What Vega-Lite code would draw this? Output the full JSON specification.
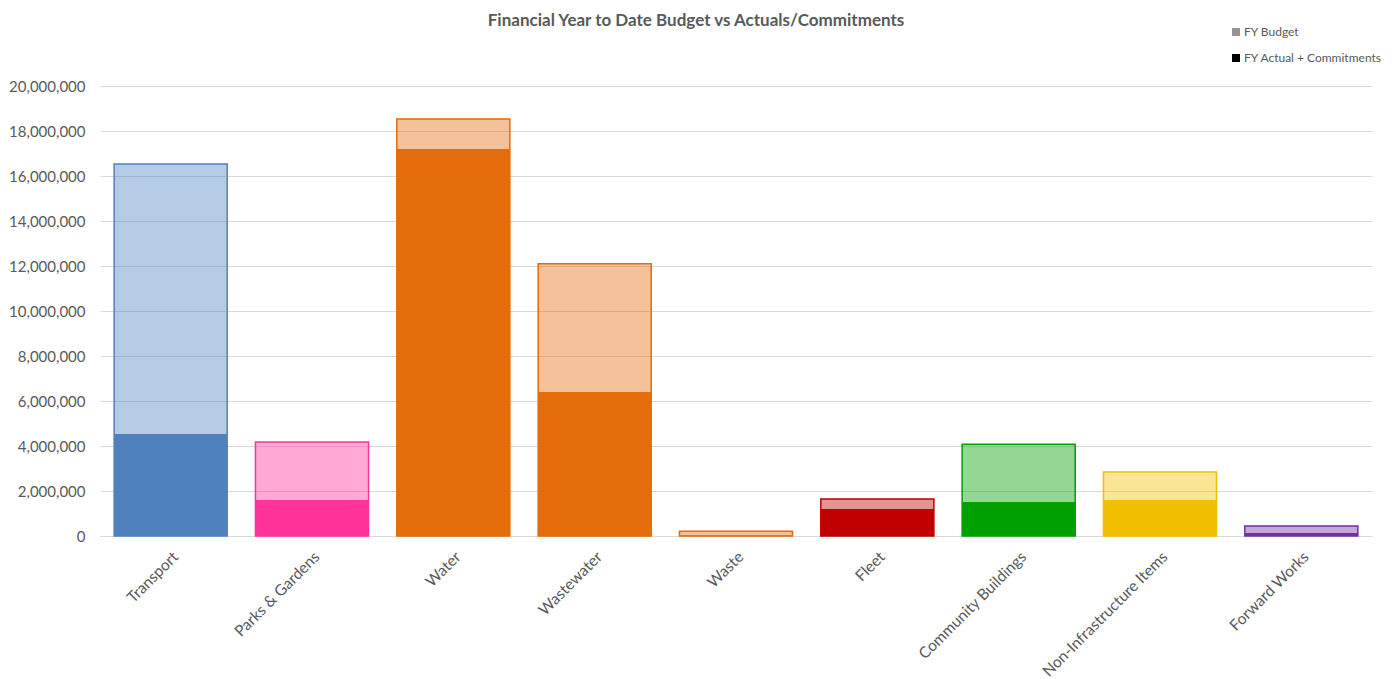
{
  "$schema": "https://vega.github.io/schema/vega-lite/v6.json",
  "width": 1272,
  "height": 450,
  "autosize": {"type": "none"},
  "padding": {"left": 100, "top": 86, "right": 21, "bottom": 143},
  "background": "white",
  "config": {
    "font": "Lato",
    "view": {"stroke": null},
    "axis": {"labelFont": "Lato", "labelColor": "#595959", "labelFontSize": 15},
    "legend": {"padding": 0}
  },
  "title": {
    "text": "Financial Year to Date Budget vs Actuals/Commitments",
    "font": "Lato",
    "fontSize": 17,
    "fontWeight": "bold",
    "color": "#595959",
    "anchor": "middle",
    "frame": "group",
    "dx": -40,
    "offset": -4
  },
  "data": {
    "values": [
      {"category": "Transport", "series": "FY Budget", "value": 16530000},
      {"category": "Parks & Gardens", "series": "FY Budget", "value": 4180000},
      {"category": "Water", "series": "FY Budget", "value": 18530000},
      {"category": "Wastewater", "series": "FY Budget", "value": 12100000},
      {"category": "Waste", "series": "FY Budget", "value": 210000},
      {"category": "Fleet", "series": "FY Budget", "value": 1640000},
      {"category": "Community Buildings", "series": "FY Budget", "value": 4080000},
      {"category": "Non-Infrastructure Items", "series": "FY Budget", "value": 2840000},
      {"category": "Forward Works", "series": "FY Budget", "value": 440000},
      {"category": "Transport", "series": "FY Actual + Commitments", "value": 4530000},
      {"category": "Parks & Gardens", "series": "FY Actual + Commitments", "value": 1600000},
      {"category": "Water", "series": "FY Actual + Commitments", "value": 17200000},
      {"category": "Wastewater", "series": "FY Actual + Commitments", "value": 6400000},
      {"category": "Waste", "series": "FY Actual + Commitments", "value": 20000},
      {"category": "Fleet", "series": "FY Actual + Commitments", "value": 1200000},
      {"category": "Community Buildings", "series": "FY Actual + Commitments", "value": 1510000},
      {"category": "Non-Infrastructure Items", "series": "FY Actual + Commitments", "value": 1600000},
      {"category": "Forward Works", "series": "FY Actual + Commitments", "value": 130000}
    ]
  },
  "encoding": {
    "x": {
      "field": "category",
      "type": "nominal",
      "sort": null,
      "scale": {"paddingInner": 0.2, "paddingOuter": 0.1},
      "axis": {
        "title": null,
        "labelAngle": -45,
        "labelFontSize": 15.5,
        "labelPadding": 13,
        "ticks": false,
        "domainColor": "#D9D9D9",
        "domainWidth": 1
      }
    },
    "y": {
      "field": "value",
      "type": "quantitative",
      "stack": null,
      "scale": {"domain": [0, 20000000], "nice": false},
      "axis": {
        "title": null,
        "format": ",d",
        "values": [0, 2000000, 4000000, 6000000, 8000000, 10000000, 12000000, 14000000, 16000000, 18000000, 20000000],
        "domain": false,
        "ticks": false,
        "labelPadding": 15,
        "gridColor": "#D9D9D9",
        "gridWidth": 1
      }
    }
  },
  "layer": [
    {
      "transform": [{"filter": "datum.series === 'FY Budget'"}],
      "mark": {"type": "bar"},
      "encoding": {
        "color": {
          "field": "category",
          "type": "nominal",
          "legend": null,
          "scale": {
            "domain": ["Transport", "Parks & Gardens", "Water", "Wastewater", "Waste", "Fleet", "Community Buildings", "Non-Infrastructure Items", "Forward Works"],
            "range": ["#4F81BD", "#FF3399", "#E46C0A", "#E46C0A", "#E46C0A", "#C00000", "#00A000", "#F0C000", "#7030A0"]
          }
        },
        "opacity": {
          "field": "series",
          "type": "nominal",
          "scale": {"domain": ["FY Budget", "FY Actual + Commitments"], "range": [0.42, 1]},
          "legend": {
            "title": null,
            "orient": "none",
            "legendX": 1130,
            "legendY": -60,
            "symbolType": "square",
            "symbolSize": 64,
            "symbolFillColor": "black",
            "symbolStrokeWidth": 0,
            "labelFont": "Lato",
            "labelFontSize": 12,
            "labelColor": "#595959",
            "rowPadding": 14,
            "labelOffset": 2
          }
        }
      }
    },
    {
      "transform": [{"filter": "datum.series === 'FY Budget'"}],
      "mark": {"type": "bar", "fillOpacity": 0, "strokeWidth": 1.5},
      "encoding": {
        "stroke": {
          "field": "category",
          "type": "nominal",
          "legend": null,
          "scale": {
            "domain": ["Transport", "Parks & Gardens", "Water", "Wastewater", "Waste", "Fleet", "Community Buildings", "Non-Infrastructure Items", "Forward Works"],
            "range": ["#4F81BD", "#FF3399", "#E46C0A", "#E46C0A", "#E46C0A", "#C00000", "#00A000", "#F0C000", "#7030A0"]
          }
        }
      }
    },
    {
      "transform": [{"filter": "datum.series === 'FY Actual + Commitments'"}],
      "mark": {"type": "bar"},
      "encoding": {
        "color": {"field": "category", "type": "nominal", "legend": null},
        "opacity": {"field": "series", "type": "nominal"}
      }
    }
  ]
}
